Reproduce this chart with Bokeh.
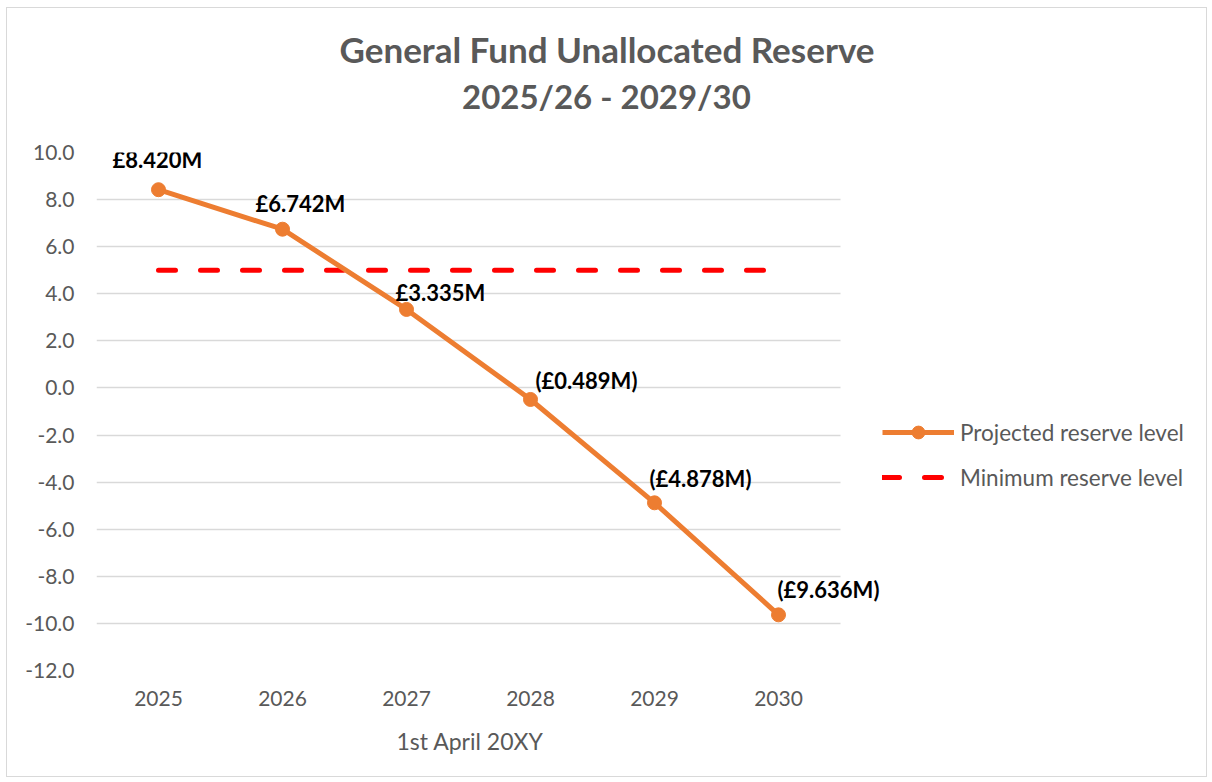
from bokeh.plotting import figure
from bokeh.models import (Range1d, FixedTicker, NumeralTickFormatter, Title,
                          Legend, LegendItem, ColumnDataSource)
from bokeh.core.properties import value
from bokeh.embed import file_html
from bokeh.resources import INLINE

# ---- data ----
years = [2025, 2026, 2027, 2028, 2029, 2030]
projected = [8.420, 6.742, 3.335, -0.489, -4.878, -9.636]
minimum = [5.0, 5.0, 5.0, 5.0, 5.0, 5.0]
y_ticks = [-12, -10, -8, -6, -4, -2, 0, 2, 4, 6, 8, 10]
title_lines = ["General Fund Unallocated Reserve", "2025/26 - 2029/30"]
x_title = "1st April 20XY"
series_names = ["Projected reserve level", "Minimum reserve level"]

# ---- style ----
FONT = "Lato"
GREY = "#595959"
ORANGE = "#ED7D31"
RED = "#FF0000"
label_dx = [-1, 18, 34, 56, 46, 50]
label_dy = [-30, -26, -17, -19, -24, -25]


def fmt(v):
    return f"£{v:.3f}M" if v >= 0 else f"(£{abs(v):.3f}M)"


W, H = 1201, 770
FRAME_L, FRAME_T, FRAME_B = 89, 144, 108
PX_PER_CAT = 124.0
x_start = years[0] - 0.5
x_end = x_start + (W - FRAME_L) / PX_PER_CAT

p = figure(width=W, height=H, x_range=Range1d(x_start, x_end), y_range=Range1d(-12, 10),
           output_backend="svg", toolbar_location=None,
           min_border_left=FRAME_L, min_border_right=0,
           min_border_top=FRAME_T, min_border_bottom=FRAME_B)
p.styles = {"margin-left": "6px", "margin-top": "7px", "border": "1px solid #D9D9D9"}
p.background_fill_color = "white"
p.border_fill_color = "white"
p.outline_line_color = None

# grid
p.xgrid.grid_line_color = None
p.ygrid.grid_line_color = "#D9D9D9"
p.ygrid.grid_line_width = 1.5
p.ygrid.cross_bounds = (years[0] - 0.5, years[-1] + 0.5)
p.yaxis.ticker = FixedTicker(ticks=y_ticks)
p.yaxis.formatter = NumeralTickFormatter(format="0.0")
p.xaxis.ticker = FixedTicker(ticks=years)
p.xaxis.formatter = NumeralTickFormatter(format="0")

for ax in (p.xaxis, p.yaxis):
    ax.axis_line_color = None
    ax.major_tick_line_color = None
    ax.minor_tick_line_color = None
    ax.major_tick_out = 0
    ax.major_tick_in = 0
    ax.major_label_text_font = FONT
    ax.major_label_text_font_size = "21px"
    ax.major_label_text_color = GREY

p.yaxis.major_label_standoff = 22
p.xaxis.major_label_standoff = 20

src = ColumnDataSource(dict(
    x=years, y=projected, ymin=minimum,
    lab=[fmt(v) for v in projected], dx=label_dx, dy=label_dy))

r_min = p.line("x", "ymin", source=src, line_color=RED, line_width=5,
               line_dash="17 25", line_cap="round")
r_line = p.line("x", "y", source=src, line_color=ORANGE, line_width=5)
r_pts = p.scatter("x", "y", source=src, size=14, fill_color=ORANGE, line_color=ORANGE)

p.text("x", "y", text="lab", source=src, x_offset="dx", y_offset="dy",
       text_align="center", text_baseline="middle",
       text_font=value(FONT), text_font_size="22px", text_font_style="bold",
       text_color="black")

# titles (centered over the whole chart via left offset); first added = nearest the frame
CENTER = 599 - FRAME_L  # chart centre relative to frame left
p.add_layout(Title(text=" ", text_font_size="1px", standoff=32), "above")  # gap above plot
est_w = [534, 289]
sizes = ["35px", "33px"]
for txt, w, fs in zip(reversed(title_lines), reversed(est_w), reversed(sizes)):
    p.add_layout(Title(text=txt, align="left", offset=CENTER - w / 2,
                       text_font=FONT, text_font_size=fs, text_font_style="bold",
                       text_color=GREY, standoff=4), "above")

p.add_layout(Title(text=x_title, align="left", offset=(468 - 7 - FRAME_L) - 144 / 2,
                   text_font=FONT, text_font_size="23px", text_font_style="normal",
                   text_color=GREY, standoff=32), "below")

legend = Legend(items=[LegendItem(label=series_names[0], renderers=[r_line, r_pts]),
                       LegendItem(label=series_names[1], renderers=[r_min])],
                location=(786, 177), margin=0, padding=0, spacing=13,
                glyph_width=72, glyph_height=32, label_height=32, label_standoff=6,
                label_text_font=FONT, label_text_font_size="22.5px",
                label_text_color=GREY, border_line_color=None,
                background_fill_alpha=0)
p.add_layout(legend)

open("out.html", "w").write(file_html(p, INLINE))
